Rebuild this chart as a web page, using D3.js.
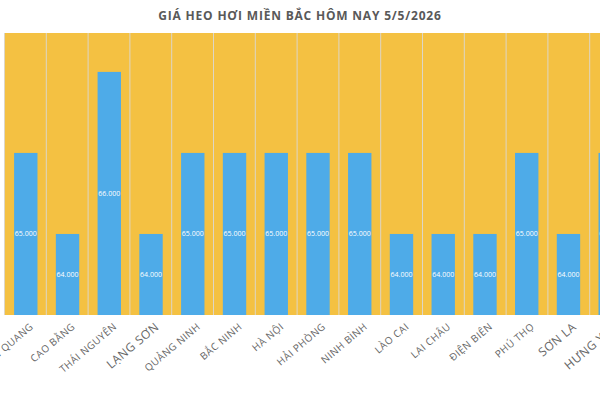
<!DOCTYPE html>
<html lang="vi">
<head>
<meta charset="UTF-8" />
<script src="https://d3js.org/d3.v7.min.js"></script>
<style>
  html, body { margin: 0; padding: 0; background: #fff; overflow: hidden; }
  svg { font-family: 'Open Sans', 'Noto Sans', sans-serif; display: block; }
</style>
</head>
<body>
<svg id="chart" width="600" height="400"></svg>
<script>
const title = "GIÁ HEO HƠI MIỀN BẮC HÔM NAY 5/5/2026";
const provinces = ["TUYÊN QUANG", "CAO BẰNG", "THÁI NGUYÊN", "LẠNG SƠN", "QUẢNG NINH", "BẮC NINH",
  "HÀ NỘI", "HẢI PHÒNG", "NINH BÌNH", "LÀO CAI", "LAI CHÂU", "ĐIỆN BIÊN", "PHÚ THỌ", "SƠN LA", "HƯNG YÊN"];
const prices = [65, 64, 66, 64, 65, 65, 65, 65, 65, 64, 64, 64, 65, 64, 65];
const bigLabels = ["LẠNG SƠN", "SƠN LA", "HƯNG YÊN"];

const svg = d3.select("#chart");
const margin = { top: 33, left: 4.5, bottom: 85 };
const bandW = 41.8;
const x = d3.scaleBand().domain(provinces)
  .range([margin.left, margin.left + bandW * provinces.length]).paddingInner(0.44).paddingOuter(0.23);
const y = d3.scaleLinear().domain([63, 66.48]).range([400 - margin.bottom, margin.top]);

svg.append("text").attr("x", 300).attr("y", 20).attr("text-anchor", "middle")
  .attr("font-size", 12).attr("font-weight", 700).attr("fill", "#595959")
  .attr("letter-spacing", "0.8").text(title);

svg.append("rect").attr("x", margin.left).attr("y", y.range()[1])
  .attr("width", bandW * provinces.length).attr("height", y.range()[0] - y.range()[1])
  .attr("fill", "#F4C142");

const gridX = d3.range(provinces.length + 1).map(i => x.range()[0] + i * bandW);
svg.selectAll(".grid").data(gridX).join("line")
  .attr("x1", d => d).attr("x2", d => d)
  .attr("y1", y.range()[1]).attr("y2", y.range()[0])
  .attr("stroke", "#ddd6c6").attr("stroke-width", 1);

svg.selectAll(".bar").data(prices).join("rect")
  .attr("x", (d, i) => x(provinces[i]))
  .attr("width", x.bandwidth())
  .attr("y", d => y(d))
  .attr("height", d => y(63) - y(d))
  .attr("fill", "#4EABE8");

svg.selectAll(".val").data(prices).join("text")
  .attr("x", (d, i) => x(provinces[i]) + x.bandwidth() / 2)
  .attr("y", d => (y(d) + y(63)) / 2 + 2.5)
  .attr("text-anchor", "middle").attr("font-size", 7).attr("fill", "#fff")
  .text(d => d3.format(".3f")(d));

svg.selectAll(".cat").data(provinces).join("text")
  .attr("transform", d => `translate(${x(d) + x.bandwidth() / 2 + 6},${y(63) + 10}) rotate(-40)`)
  .attr("text-anchor", "end").attr("dy", "0.35em")
  .attr("font-size", d => bigLabels.includes(d) ? 12 : 10)
  .attr("fill", "#666").attr("letter-spacing", "0.5")
  .text(d => d);
</script>
</body>
</html>
